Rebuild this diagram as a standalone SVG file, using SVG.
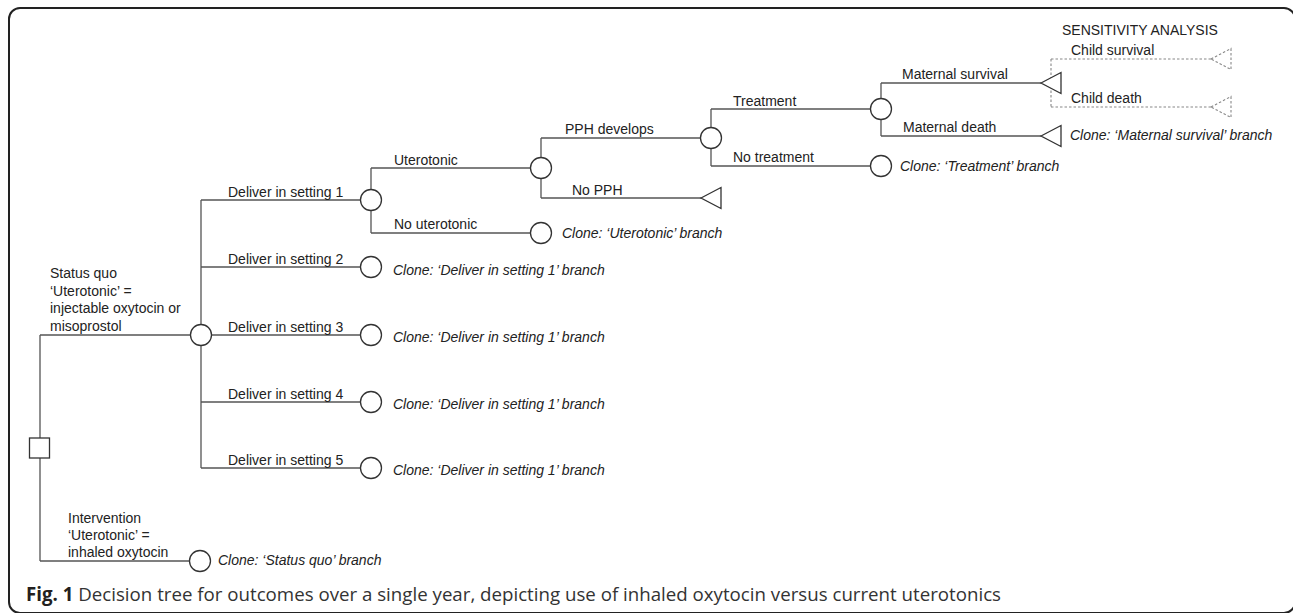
<svg xmlns="http://www.w3.org/2000/svg" width="1293" height="613" viewBox="0 0 1293 613">
<style>
.ln{stroke:#555;stroke-width:1.3;fill:none}
.dash{stroke:#888;stroke-width:1.1;fill:none;stroke-dasharray:2.5 2}
.nd{stroke:#333;stroke-width:1.3;fill:#fff}
.ndd{stroke:#888;stroke-width:1.1;fill:#fff;stroke-dasharray:2.5 2}
.t{font-family:"Liberation Sans",Arial,sans-serif;font-size:14px;fill:#222}
.ti{font-family:"Liberation Sans",Arial,sans-serif;font-size:14px;font-style:italic;fill:#222}
.cap{font-family:"Open Sans","Noto Sans",sans-serif;font-size:18.7px;fill:#333}
</style>
<rect width="1293" height="613" fill="#fff"/>
<rect x="9" y="8" width="1286" height="605" rx="11" fill="none" stroke="#222" stroke-width="2"/>

<g id="connectors">
  <path class="ln" d="M40,335 V561 M40,335 H190.5 M40,561 H189.5"/>
  <path class="ln" d="M201,200 V468 M201,200 H360.5 M201,267 H360.5 M211.5,335 H360.5 M201,402 H360.5 M201,468 H360.5"/>
  <path class="ln" d="M371,168 V233 M371,168 H530.5 M371,233 H530.5"/>
  <path class="ln" d="M541,138 V198 M541,138 H700.5 M541,198 H701"/>
  <path class="ln" d="M711,109 V166 M711,109 H870.5 M711,166 H870.5"/>
  <path class="ln" d="M881,83 V136 M881,83 H1041 M881,136 H1041"/>
  <path class="dash" d="M1051,59 V107 M1051,59 H1211 M1051,107 H1211"/>
</g>

<g id="labels">
  <text class="t" x="50" y="278">Status quo</text>
  <text class="t" x="50" y="295.5">‘Uterotonic’ =</text>
  <text class="t" x="50" y="313">injectable oxytocin or</text>
  <text class="t" x="50" y="330.5">misoprostol</text>
  <text class="t" x="68" y="523">Intervention</text>
  <text class="t" x="68" y="540">‘Uterotonic’ =</text>
  <text class="t" x="68" y="557">inhaled oxytocin</text>
  <text class="t" x="228" y="197">Deliver in setting 1</text>
  <text class="t" x="228" y="264">Deliver in setting 2</text>
  <text class="t" x="228" y="332">Deliver in setting 3</text>
  <text class="t" x="228" y="399">Deliver in setting 4</text>
  <text class="t" x="228" y="465">Deliver in setting 5</text>
  <text class="t" x="394" y="165">Uterotonic</text>
  <text class="t" x="394" y="229">No uterotonic</text>
  <text class="t" x="565" y="134">PPH develops</text>
  <text class="t" x="572" y="195">No PPH</text>
  <text class="t" x="733" y="106">Treatment</text>
  <text class="t" x="733" y="162">No treatment</text>
  <text class="t" x="902" y="79">Maternal survival</text>
  <text class="t" x="903" y="132">Maternal death</text>
  <text class="t" x="1062" y="35">SENSITIVITY ANALYSIS</text>
  <text class="t" x="1071" y="55">Child survival</text>
  <text class="t" x="1071" y="103">Child death</text>
</g>

<g id="n-decision"><rect class="nd" x="29.5" y="438" width="20" height="20"/></g>
<g id="n-statusquo"><circle class="nd" cx="201" cy="335" r="10.5"/></g>
<g id="n-intervention"><circle class="nd" cx="200" cy="561" r="10.5"/><text class="ti" x="218" y="565">Clone: ‘Status quo’ branch</text></g>
<g id="n-setting1"><circle class="nd" cx="371" cy="200" r="10.5"/></g>
<g id="n-setting2"><circle class="nd" cx="371" cy="267" r="10.5"/><text class="ti" x="393" y="275">Clone: ‘Deliver in setting 1’ branch</text></g>
<g id="n-setting3"><circle class="nd" cx="371" cy="335" r="10.5"/><text class="ti" x="393" y="342">Clone: ‘Deliver in setting 1’ branch</text></g>
<g id="n-setting4"><circle class="nd" cx="371" cy="402" r="10.5"/><text class="ti" x="393" y="409">Clone: ‘Deliver in setting 1’ branch</text></g>
<g id="n-setting5"><circle class="nd" cx="371" cy="468" r="10.5"/><text class="ti" x="393" y="475">Clone: ‘Deliver in setting 1’ branch</text></g>
<g id="n-uterotonic"><circle class="nd" cx="541" cy="168" r="10.5"/></g>
<g id="n-nouterotonic"><circle class="nd" cx="541" cy="233" r="10.5"/><text class="ti" x="562" y="238">Clone: ‘Uterotonic’ branch</text></g>
<g id="n-pph"><circle class="nd" cx="711" cy="138" r="10.5"/></g>
<g id="n-nopph"><polygon class="nd" points="701,198 721,187.5 721,208.5"/></g>
<g id="n-treatment"><circle class="nd" cx="881" cy="109" r="10.5"/></g>
<g id="n-notreatment"><circle class="nd" cx="881" cy="166" r="10.5"/><text class="ti" x="900" y="171">Clone: ‘Treatment’ branch</text></g>
<g id="n-matsurvival"><polygon class="nd" points="1041,83 1061,72.5 1061,93.5"/></g>
<g id="n-matdeath"><polygon class="nd" points="1041,136 1061,125.5 1061,146.5"/><text class="ti" x="1070" y="140">Clone: ‘Maternal survival’ branch</text></g>
<g id="n-childsurvival"><polygon class="ndd" points="1211,59 1231,48.5 1231,69.5"/></g>
<g id="n-childdeath"><polygon class="ndd" points="1211,107 1231,96.5 1231,117.5"/></g>

<g id="caption">
  <text class="cap" x="26" y="601"><tspan font-weight="bold" fill="#231f20">Fig. 1</tspan> Decision tree for outcomes over a single year, depicting use of inhaled oxytocin versus current uterotonics</text>
</g>
</svg>
